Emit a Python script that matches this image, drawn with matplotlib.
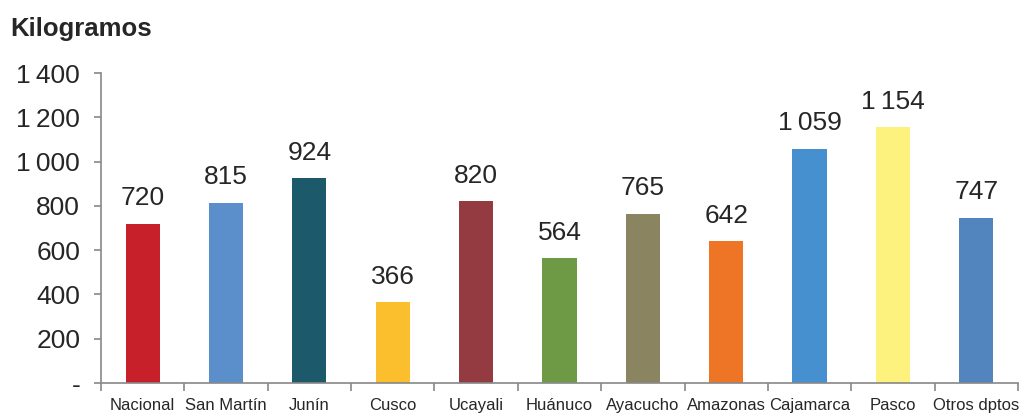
import numpy as np
import matplotlib
matplotlib.use('Agg')
import matplotlib.pyplot as plt
from matplotlib.ticker import FixedLocator

plt.rcParams['font.family'] = ['Liberation Sans', 'DejaVu Sans']

categorias = ['Nacional', 'San Martín', 'Junín', 'Cusco', 'Ucayali', 'Huánuco',
              'Ayacucho', 'Amazonas', 'Cajamarca', 'Pasco', 'Otros dptos']
valores = [720, 815, 924, 366, 820, 564, 765, 642, 1059, 1154, 747]
colores = ['#C8202A', '#5B8FCB', '#1C5A6B', '#FBBF2E', '#933B41', '#6E9A45',
           '#8A8560', '#EE7526', '#4690CF', '#FCF27D', '#5284BE']
yticks = [0, 200, 400, 600, 800, 1000, 1200, 1400]
ytick_labels = ['-', '200', '400', '600', '800', '1\u2009000', '1\u2009200', '1\u2009400']


def fmt(v):
    if v >= 1000:
        return '%d\u2009%03d' % (v // 1000, v % 1000)
    return str(v)


fig = plt.figure(figsize=(10.2, 4.18), dpi=100)
ax = fig.add_axes([0.099, 0.0837, 0.899, 0.7416])

x = np.arange(len(categorias))
ax.bar(x, valores, width=0.41, color=colores)
for xi, v in zip(x, valores):
    ax.text(xi, v + 60, fmt(v), ha='center', va='bottom', fontsize=19, color='#262626')

ax.set_xlim(-0.5, len(categorias) - 0.5)
ax.set_ylim(0, 1400)
ax.set_yticks(yticks)
ax.set_yticklabels(ytick_labels, fontsize=19, color='#262626')
ax.tick_params(axis='y', length=5, width=1.2, color='#888888', pad=10)

ax.set_xticks(x)
ax.set_xticklabels(categorias, fontsize=12, color='#262626')
ax.tick_params(axis='x', which='major', length=0, pad=11)
ax.xaxis.set_minor_locator(FixedLocator(np.arange(len(categorias) + 1) - 0.5))
ax.tick_params(axis='x', which='minor', length=6, width=1.2, color='#888888')

for s in ['top', 'right']:
    ax.spines[s].set_visible(False)
for s in ['left', 'bottom']:
    ax.spines[s].set_color('#888888')
    ax.spines[s].set_linewidth(1.2)

fig.text(0.01, 0.93, 'Kilogramos', fontsize=18.5, fontweight='bold', color='#262626',
         ha='left', va='center')

fig.savefig('out.png', dpi=100)
